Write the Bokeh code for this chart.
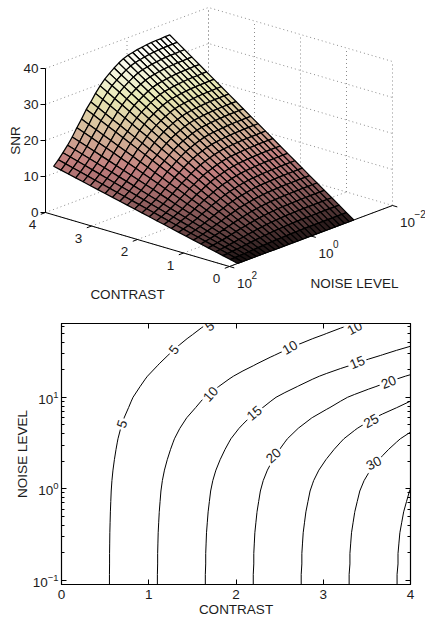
import numpy as np
import contourpy
from bokeh.plotting import figure
from bokeh.layouts import column
from bokeh.models import Range1d, LogAxis, LinearAxis, LogTicker, FixedTicker
from bokeh.core.properties import value
from bokeh.embed import file_html
from bokeh.resources import INLINE

# ---------- data ----------
contrast = [0.0, 0.16, 0.32, 0.48, 0.64, 0.8, 0.96, 1.12, 1.28, 1.44, 1.6, 1.76, 1.92,
            2.08, 2.24, 2.4, 2.56, 2.72, 2.88, 3.04, 3.2, 3.36, 3.52, 3.68, 3.84, 4.0]
noise_level = [0.089, 0.116, 0.151, 0.196, 0.255, 0.331, 0.431, 0.56, 0.728, 0.946, 1.23, 1.6, 2.08,
               2.7, 3.52, 4.57, 5.94, 7.73, 10.0, 13.1, 17.0, 22.1, 28.7, 37.3, 48.5, 63.1]
snr_at_contrast_4 = [36.4, 36.4, 36.3, 36.3, 36.2, 36.1, 35.9, 35.7, 35.4, 35.1, 34.6, 33.9, 33.0,
                     32.0, 30.9, 29.5, 27.9, 26.0, 24.4, 22.2, 20.3, 18.2, 16.4, 14.8, 13.3, 12.0]
contour_levels = [5, 10, 15, 20, 25, 30, 35]
label_level = ["5", "5", "5", "10", "10", "10", "15", "15", "20", "20", "25", "30"]
label_contrast = [0.695, 1.29, 1.70, 1.71, 2.62, 3.36, 2.21, 3.39, 2.43, 3.75, 3.55, 3.58]
label_noise = [5.1, 33, 60, 10.8, 35, 57, 6.7, 24, 2.3, 14.6, 5.5, 1.9]
label_angle = [72, 52, 35, 48, 30, 28, 40, 22, 42, 22, 28, 28]
z_ticks = [0, 10, 20, 30, 40]
contrast_ticks = [0, 1, 2, 3, 4]
noise_ticks = [100.0, 1.0, 0.01]
noise_exps = ["2", "0", "\u22122"]

FONT = value("Liberation Sans")
TXT = "#1c1c1c"
FS = "13.5px"

cgrid = np.array(contrast)
ngrid = np.array(noise_level)
Z = np.outer(np.array(snr_at_contrast_4), cgrid / 4.0)   # rows: noise, cols: contrast

# ---------- 3-D view: linear projection to page pixels ----------
FRONT = np.array([229.0, 266.0])
LEFT = np.array([45.0, 212.0])
RIGHT = np.array([392.0, 205.0])
ZPX = 144.0


def proj(c, n, z):
    c, n, z = np.asarray(c, float), np.asarray(n, float), np.asarray(z, float)
    u = c / 4.0
    v = (2.0 - np.log10(n)) / 4.0
    x = FRONT[0] + u * (LEFT[0] - FRONT[0]) + v * (RIGHT[0] - FRONT[0])
    y = FRONT[1] + u * (LEFT[1] - FRONT[1]) + v * (RIGHT[1] - FRONT[1]) - z / 40.0 * ZPX
    return x, y


def pink(t):
    t = np.clip(t, 0, 1)
    r = np.clip(t * 8 / 3, 0, 1)
    g = np.clip((t - 3 / 8) * 8 / 3, 0, 1)
    b = np.clip((t - 3 / 4) * 4, 0, 1)
    col = [np.sqrt((2 * t + h) / 3) for h in (r, g, b)]
    return "#%02x%02x%02x" % tuple(int(round(255 * k)) for k in col)


p1 = figure(width=425, height=305, output_backend="svg", toolbar_location=None,
            x_range=Range1d(0, 425), y_range=Range1d(305, 0), frame_align=False,
            min_border=0, min_border_left=0, min_border_right=0, min_border_top=0, min_border_bottom=0)
p1.axis.visible = False
p1.grid.visible = False
p1.outline_line_color = None

DOT = dict(line_color="#8c8c8c", line_width=1, line_dash="1 3")
# back walls
wx, wy = [], []
for z in z_ticks[1:]:
    x, y = proj([4, 4, 0], [100, 0.01, 0.01], [z, z, z])
    wx.append(list(x)); wy.append(list(y))
for c in contrast_ticks:
    x, y = proj([c, c, c], [100, 0.01, 0.01], [0, 0, 40])
    wx.append(list(x[1:])); wy.append(list(y[1:]))
    wx.append(list(x[:2])); wy.append(list(y[:2]))
for n in noise_ticks:
    x, y = proj([0, 4, 4], [n, n, n], [0, 0, 40])
    wx.append(list(x[1:])); wy.append(list(y[1:]))
    wx.append(list(x[:2])); wy.append(list(y[:2]))
p1.multi_line(wx, wy, **DOT)

# axes
ax, ay = proj([4, 4, 0, 0], [100, 100, 100, 0.01], [40, 0, 0, 0])
p1.line(ax, ay, line_color="black", line_width=1)
zx, zy = proj([4] * 5, [100] * 5, z_ticks)
p1.segment(zx - 5, zy, zx, zy, line_color="black", line_width=1)
cx, cy = proj(contrast_ticks, [100] * 5, [0] * 5)
p1.segment(cx, cy, cx - 4.7, cy + 1.8, line_color="black", line_width=1)
nx, ny = proj([0] * 3, noise_ticks, [0] * 3)
p1.segment(nx, ny, nx + 4.8, ny + 1.4, line_color="black", line_width=1)

# surface, painted back to front
xs, ys, cols = [], [], []
for j in range(len(contrast) - 2, -1, -1):
    for i in range(len(noise_level) - 1):
        cc = [cgrid[j], cgrid[j + 1], cgrid[j + 1], cgrid[j]]
        nn = [ngrid[i], ngrid[i], ngrid[i + 1], ngrid[i + 1]]
        zz = [Z[i, j], Z[i, j + 1], Z[i + 1, j + 1], Z[i + 1, j]]
        x, y = proj(cc, nn, zz)
        xs.append(list(x)); ys.append(list(y))
        cols.append(pink(np.mean(zz) / Z.max()))
p1.patches(xs, ys, fill_color=cols, line_color="black", line_width=1.25)

# tick labels and titles of the 3-D view
p1.text(zx - 7, zy, [str(z) for z in z_ticks], text_align="right", text_baseline="middle",
        text_font=FONT, text_font_size=FS, text_color=TXT)
p1.text(cx - 13, cy + 12, [str(c) for c in contrast_ticks], text_align="center", text_baseline="middle",
        text_font=FONT, text_font_size=FS, text_color=TXT)
p1.text(nx + 15, ny + 17, ["10"] * 3, text_align="center", text_baseline="middle",
        text_font=FONT, text_font_size=FS, text_color=TXT)
p1.text(nx + 22, ny + 8, noise_exps, text_align="left", text_baseline="middle",
        text_font=FONT, text_font_size="10px", text_color=TXT)
p1.text([15], [140], ["SNR"], angle=[np.pi / 2], text_align="center", text_baseline="middle",
        text_font=FONT, text_font_size=FS, text_color=TXT)
p1.text([127], [294], ["CONTRAST"], text_align="center", text_baseline="middle",
        text_font=FONT, text_font_size=FS, text_color=TXT)
p1.text([354], [283], ["NOISE LEVEL"], text_align="center", text_baseline="middle",
        text_font=FONT, text_font_size=FS, text_color=TXT)

# ---------- contour map ----------
p2 = figure(width=425, height=314, output_backend="svg", toolbar_location=None,
            x_range=Range1d(0, 4), y_range=Range1d(0.09, 64), y_axis_type="log", frame_align=False,
            min_border_left=61, min_border_right=15, min_border_top=18, min_border_bottom=34)
p2.grid.visible = False
p2.outline_line_color = "black"
p2.outline_line_width = 1.2

for ax_ in (p2.xaxis[0], p2.yaxis[0]):
    ax_.major_tick_in = 5
    ax_.major_tick_out = 0
    ax_.minor_tick_in = 3
    ax_.minor_tick_out = 0
    ax_.major_label_text_font = "Liberation Sans"
    ax_.major_label_text_font_size = FS
    ax_.major_label_text_color = TXT
    ax_.axis_label_text_font = "Liberation Sans"
    ax_.axis_label_text_font_size = FS
    ax_.axis_label_text_font_style = "normal"
    ax_.axis_label_text_color = TXT
    ax_.axis_line_color = "black"
p2.xaxis[0].ticker = FixedTicker(ticks=contrast_ticks)
p2.xaxis[0].minor_tick_in = 0
p2.xaxis[0].axis_label = "CONTRAST"
p2.xaxis[0].axis_label_standoff = 0
p2.xaxis[0].major_label_standoff = 5
p2.yaxis[0].ticker = LogTicker(num_minor_ticks=10)
p2.yaxis[0].axis_label = "NOISE LEVEL"
p2.yaxis[0].axis_label_standoff = 0
p2.yaxis[0].major_label_standoff = 3

top = LinearAxis(ticker=FixedTicker(ticks=contrast_ticks), major_label_text_color=None,
                 major_tick_in=5, major_tick_out=0, minor_tick_in=0, minor_tick_out=0,
                 major_label_text_font_size="1px")
right = LogAxis(ticker=LogTicker(num_minor_ticks=10), major_label_text_color=None,
                major_tick_in=5, major_tick_out=0, minor_tick_in=3, minor_tick_out=0,
                major_label_text_font_size="1px")
p2.add_layout(top, "above")
p2.add_layout(right, "right")

gen = contourpy.contour_generator(cgrid, np.log10(ngrid), Z)
lx, ly = [], []
for lev in contour_levels:
    for seg in gen.lines(lev):
        lx.append(list(seg[:, 0]))
        ly.append(list(10.0 ** seg[:, 1]))
p2.multi_line(lx, ly, line_color="black", line_width=1)

p2.text(label_contrast, label_noise, label_level, angle=label_angle, angle_units="deg",
        text_align="center", text_baseline="middle", text_font=FONT, text_font_size=FS,
        text_color=TXT, background_fill_color="white", padding=2)

open("out.html", "w").write(file_html(column(p1, p2, spacing=0), INLINE))
